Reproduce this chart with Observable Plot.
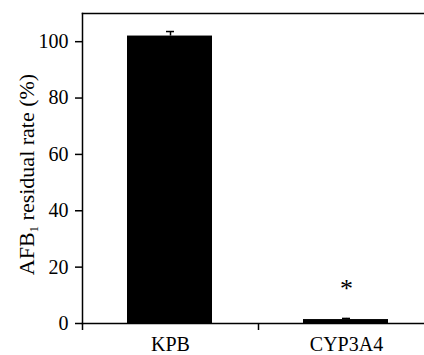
<!DOCTYPE html>
<html>
<head>
<meta charset="utf-8">
<script src="https://cdn.jsdelivr.net/npm/d3@7"></script>
<script src="https://cdn.jsdelivr.net/npm/@observablehq/plot@0.6"></script>
<style>
  html, body { margin: 0; padding: 0; background: #fff; }
  svg { display: block; }
</style>
</head>
<body>
<div id="chart"></div>
<script>
const categories = ["KPB", "CYP3A4"];
const values = [102.0, 1.4];
const errors = [1.6, 0.4];
const significance = ["", "*"];
const yTicks = [0, 20, 40, 60, 80, 100];
const yLabel = "AFB1 residual rate (%)";

const data = categories.map((c, i) => ({cat: c, value: values[i], err: errors[i], sig: significance[i]}));
const font = "'Liberation Serif', 'Times New Roman', serif";

const chart = Plot.plot({
  width: 424,
  height: 355,
  marginLeft: 82,
  marginTop: 13,
  marginBottom: 32,
  marginRight: 0,
  style: {fontFamily: font, color: "#000", background: "#fff", overflow: "hidden"},
  x: {domain: categories, range: [82, 434], padding: 0},
  y: {domain: [0, 110], range: [323, 13]},
  marks: [
    Plot.barY(data, {x: "cat", y: "value", fill: "#000", insetLeft: 45, insetRight: 46}),
    Plot.ruleX(data, {x: "cat", y1: "value", y2: d => d.value + d.err, stroke: "#000", strokeWidth: 1.5}),
    Plot.tickY(data, {x: "cat", y: d => d.value + d.err, stroke: "#000", strokeWidth: 1.5, insetLeft: 84, insetRight: 84}),
    Plot.text(data, {x: "cat", y: d => d.value + d.err, text: "sig", dy: -30, fontSize: 26, fill: "#000"}),
    Plot.frame({anchor: "top", stroke: "#000", strokeWidth: 1.5}),
    Plot.frame({anchor: "bottom", stroke: "#000", strokeWidth: 1.5}),
    Plot.frame({anchor: "left", stroke: "#000", strokeWidth: 1.5}),
    Plot.axisY({ticks: yTicks, tickSize: 7, tickPadding: 7, fontSize: 20, label: null, strokeWidth: 1.5}),
    Plot.axisX({text: null, tickSize: 7, dx: -88, label: null, strokeWidth: 1.5}),
    Plot.axisX({tickSize: 0, tickPadding: 13, fontSize: 20, label: null}),
    Plot.text([yLabel], {frameAnchor: "left", textAnchor: "middle", rotate: -90, dx: -56, dy: 6, fontSize: 22, fill: "#000", className: "ylabel"})
  ]
});

// subscript the "1" in AFB1
const t = chart.querySelector(".ylabel text");
if (t) {
  t.textContent = "";
  const ns = "http://www.w3.org/2000/svg";
  const a = document.createElementNS(ns, "tspan"); a.textContent = "AFB";
  const s = document.createElementNS(ns, "tspan"); s.textContent = "1";
  s.setAttribute("font-size", "13"); s.setAttribute("dy", "4");
  const r = document.createElementNS(ns, "tspan"); r.textContent = " residual rate (%)";
  r.setAttribute("dy", "-4");
  t.append(a, s, r);
}
document.getElementById("chart").append(chart);
</script>
</body>
</html>
